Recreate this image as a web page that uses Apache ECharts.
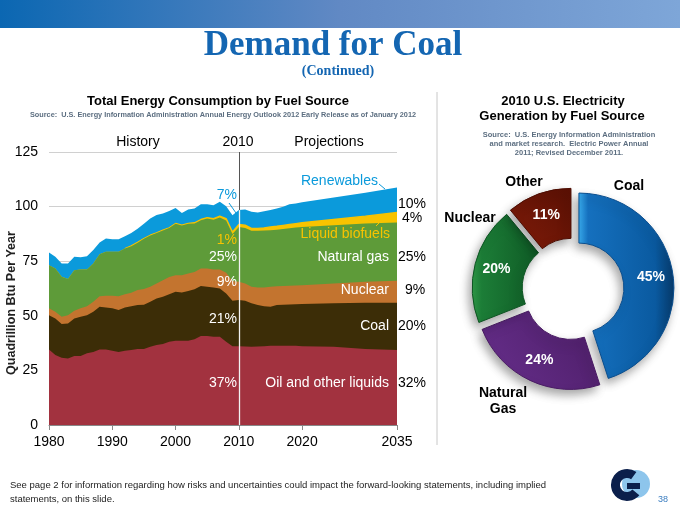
<!DOCTYPE html>
<html><head><meta charset="utf-8">
<script src="https://cdn.jsdelivr.net/npm/echarts@6/dist/echarts.min.js"></script>
<style>html,body{margin:0;padding:0;background:#fff}#c{width:680px;height:506px}</style>
</head><body><div id="c"></div>
<script>
// ---- Data: Total energy consumption (quadrillion Btu), layer values per year ----
const years = [1980,1981,1982,1983,1984,1985,1986,1987,1988,1989,
  1990,1991,1992,1993,1994,1995,1996,1997,1998,1999,
  2000,2001,2002,2003,2004,2005,2006,2007,2008,2009,
  2010,2011,2012,2013,2014,2015,2016,2017,2018,2019,
  2020,2025,2030,2035];
const oil = [34.6,32.0,30.8,30.5,31.6,31.6,32.8,33.4,34.6,34.6,
  34.0,33.4,34.0,34.3,34.8,34.8,35.8,36.6,37.1,38.1,
  38.6,38.6,38.6,39.3,40.7,40.7,40.4,40.4,38.1,36.1,
  36.1,36.0,35.8,35.9,36.1,36.3,36.3,36.3,36.3,36.3,
  36.1,35.8,34.8,34.3];
const coal = [15.7,16.8,15.4,16.0,17.2,18.0,17.5,18.4,19.5,19.2,
  19.4,19.2,19.8,20.1,20.2,20.3,20.6,21.3,21.6,21.8,
  22.4,22.1,22.7,22.8,22.9,22.6,22.6,22.1,22.1,20.8,
  21.1,20.9,19.9,19.0,18.3,17.8,18.6,18.8,18.9,19.0,
  19.3,19.9,21.2,21.7];
const nuclear = [3.1,3.0,3.4,3.8,3.5,3.8,4.1,4.6,4.9,5.4,
  5.8,6.4,6.1,6.1,6.8,7.2,6.9,6.9,7.6,7.9,
  7.6,7.9,8.1,8.0,8.1,8.4,8.2,8.7,9.5,9.0,
  8.4,7.9,7.6,8.1,8.6,9.2,8.6,8.6,8.6,8.6,
  8.6,9.1,9.6,10.0];
const naturalGas = [19.8,19.9,18.3,16.6,18.6,17.8,16.8,17.6,19.2,20.1,
  20.1,20.3,20.9,21.4,21.7,23.0,23.5,23.1,22.8,22.4,
  23.6,22.8,22.7,22.2,22.1,22.9,22.8,23.8,23.9,21.6,
  25.1,25.4,25.6,25.9,26.0,25.9,25.9,26.1,26.3,26.5,
  26.7,26.7,26.7,26.7];
const liquidBiofuels = [0,0,0,0,0,0,0,0,0,0,
  0,0,0,0.1,0.1,0.1,0.1,0.1,0.1,0.1,
  0.1,0.1,0.2,0.3,0.3,0.4,0.5,0.6,0.9,0.9,
  1.1,1.3,1.1,1.1,1.3,1.5,1.6,1.6,1.7,1.8,
  1.9,2.6,3.3,4.6];
const renewables = [5.8,5.3,6.1,7.1,6.1,5.6,6.1,6.1,5.4,6.1,
  5.8,5.8,5.6,5.9,6.3,6.8,7.6,8.1,7.6,7.7,
  7.1,5.6,6.4,6.5,7.0,6.1,6.1,6.6,5.7,7.6,
  6.6,7.2,7.6,7.3,7.6,7.7,8.1,8.5,9.3,9.2,
  9.4,10.1,10.7,11.4];
const xTickYears = [1980,1990,2000,2010,2020,2035];
const dividerYear = 2010;
const share2010 = ['37%','21%','9%','25%','1%','7%'];
const share2035 = ['32%','20%','9%','25%','4%','10%'];

// ---- Data: 2010 U.S. electricity generation by fuel source (%) ----
const pieNames = ['Coal','Natural Gas','Nuclear','Other'];
const pieValues = [45,24,20,11];

const FONT = 'Liberation Sans, Arial, sans-serif';
const layers = [
  {name:'Oil and other liquids', values: oil, color:'#A2323F'},
  {name:'Coal', values: coal, color:'#3C2D07'},
  {name:'Nuclear', values: nuclear, color:'#C3742F'},
  {name:'Natural gas', values: naturalGas, color:'#5E9B39'},
  {name:'Liquid biofuels', values: liquidBiofuels, color:'#F8C300'},
  {name:'Renewables', values: renewables, color:'#0B9ADB'}
];
let run = years.map(() => 0);
const tops = layers.map(d => { run = run.map((s, i) => +(s + d.values[i]).toFixed(2)); return run; });
const idx2010 = years.indexOf(dividerYear);
const total2010 = tops[tops.length - 1][idx2010];

const series = layers.map((d, k) => ({
  type:'line', name:d.name, data: years.map((y, i) => [y, tops[k][i]]),
  showSymbol:false, symbol:'none', silent:true, animation:false,
  lineStyle:{width:0}, areaStyle:{color:d.color, opacity:1, origin:'start'}, z: 10 - k
}));
// thin visible edge of the liquid-biofuels band where it exists
series.push({
  type:'line', name:'biofuels edge', silent:true, animation:false, showSymbol:false, symbol:'none', z:6,
  data: years.map((y, i) => liquidBiofuels[i] > 0 || (i + 1 < years.length && liquidBiofuels[i + 1] > 0) ? [y, tops[4][i]] : [y, null]),
  lineStyle:{width:1.3, color:'#F8C300'}
});
// divider line: gray above the areas, white through the areas
series[5].markLine = {silent:true, symbol:'none', z:1, animation:false, label:{show:false},
  lineStyle:{color:'#555', width:1, type:'solid'}, data:[{xAxis: dividerYear}]};
series[0].markLine = {silent:true, symbol:'none', z:30, animation:false, label:{show:false},
  lineStyle:{color:'#f2f2f2', width:1.3, type:'solid'},
  data:[[{coord:[dividerYear, 0]}, {coord:[dividerYear, total2010]}]]};

const pieStyles = [
  {color:{type:'linear',x:0,y:0,x2:1,y2:0,colorStops:[{offset:0,color:'#3AAEF0'},{offset:0.1,color:'#1570BE'},{offset:0.8,color:'#0A5AA0'},{offset:1,color:'#063A6C'}]}, borderColor:'#0A4E8E'},
  {color:{type:'linear',x:0,y:1,x2:1,y2:0,colorStops:[{offset:0,color:'#9A62CC'},{offset:0.12,color:'#642D88'},{offset:1,color:'#4C1D66'}]}, borderColor:'#4A1C64'},
  {color:{type:'linear',x:0,y:0,x2:1,y2:0,colorStops:[{offset:0,color:'#2F9A48'},{offset:0.15,color:'#1C7D37'},{offset:1,color:'#0F5A25'}]}, borderColor:'#0E5523'},
  {color:{type:'linear',x:0,y:1,x2:1,y2:0,colorStops:[{offset:0,color:'#E0501E'},{offset:0.15,color:'#7A1A08'},{offset:1,color:'#5A1004'}]}, borderColor:'#4E0E03'}
];
const pieData = pieNames.map((n, i) => {
  const st = Object.assign({borderWidth:1, shadowBlur:10, shadowColor:'rgba(0,0,0,0.35)', shadowOffsetX:-3, shadowOffsetY:5}, pieStyles[i]);
  return {name:n, value:pieValues[i], selected:true, itemStyle:st, select:{itemStyle:st}};
});
series.push({
  type:'pie', center:[573,289], radius:[45,95], startAngle:90, clockwise:true,
  selectedMode:'multiple', selectedOffset:6, silent:true, animation:false,
  data:pieData, labelLine:{show:false},
  label:{show:true, position:'inside', formatter: p => p.value + '%', color:'#fff', fontWeight:'bold', fontSize:14, fontFamily:FONT},
  emphasis:{disabled:true}
});

function txt(x, y, text, o) {
  o = o || {};
  const align = o.align || 'center';
  return {type:'text', x:x, y:y, silent:true, z:50,
    rotation:o.rotation || 0,
    style:{text:text, fill:o.color || '#000', font:(o.weight || 'normal') + ' ' + (o.size || 14) + 'px ' + (o.family || FONT),
      align:align, textAlign:align, verticalAlign:'middle', textVerticalAlign:'middle'}};
}
const graphics = [
  {type:'rect', shape:{x:0,y:0,width:680,height:28}, silent:true, z:1,
    style:{fill:{type:'linear',x:0,y:0,x2:1,y2:0,colorStops:[{offset:0,color:'#0B67B2'},{offset:0.5,color:'#6189C4'},{offset:1,color:'#7EA6D8'}]}}},
  txt(333, 46, 'Demand for Coal', {color:'#1466B2', weight:'bold', size:35, family:'Liberation Serif, Times New Roman, serif'}),
  txt(338, 71, '(Continued)', {color:'#1466B2', weight:'bold', size:14, family:'Liberation Serif, Times New Roman, serif'}),
  txt(218, 101, 'Total Energy Consumption by Fuel Source', {weight:'bold', size:13}),
  txt(223, 114.5, 'Source:  U.S. Energy Information Administration Annual Energy Outlook 2012 Early Release as of January 2012', {weight:'bold', size:7.3, color:'#5C6E80'}),
  txt(563, 101, '2010 U.S. Electricity', {weight:'bold', size:13}),
  txt(562, 116, 'Generation by Fuel Source', {weight:'bold', size:13}),
  txt(569, 135, 'Source:  U.S. Energy Information Administration', {weight:'bold', size:7.5, color:'#5C6E80'}),
  txt(569, 144, 'and market research.  Electric Power Annual', {weight:'bold', size:7.5, color:'#5C6E80'}),
  txt(569, 153, '2011; Revised December 2011.', {weight:'bold', size:7.5, color:'#5C6E80'}),
  {type:'line', shape:{x1:437,y1:92,x2:437,y2:445}, silent:true, style:{stroke:'#c8c8c8', lineWidth:1}},
  txt(12, 303, 'Quadrillion Btu Per Year', {weight:'bold', size:12.5, color:'#222', rotation:Math.PI/2}),
  txt(138, 142, 'History'), txt(238, 142, '2010'), txt(329, 142, 'Projections'),
  txt(378, 181, 'Renewables', {align:'right', color:'#0B9ADB'}),
  txt(390, 234, 'Liquid biofuels', {align:'right', color:'#F8C300'}),
  txt(389, 257, 'Natural gas', {align:'right', color:'#fff'}),
  txt(389, 290, 'Nuclear', {align:'right', color:'#fff'}),
  txt(389, 326, 'Coal', {align:'right', color:'#fff'}),
  txt(389, 383, 'Oil and other liquids', {align:'right', color:'#fff'}),
  {type:'line', shape:{x1:379,y1:184,x2:385,y2:189}, silent:true, z:50, style:{stroke:'#0B9ADB', lineWidth:1}},
  {type:'line', shape:{x1:376,y1:226,x2:383,y2:219}, silent:true, z:50, style:{stroke:'#F8C300', lineWidth:1}},
  {type:'line', shape:{x1:229,y1:203,x2:236,y2:213}, silent:true, z:50, style:{stroke:'#0B9ADB', lineWidth:1}},
  txt(237, 195, share2010[5], {align:'right', color:'#0B9ADB'}),
  txt(237, 240, share2010[4], {align:'right', color:'#F8C300'}),
  txt(237, 257, share2010[3], {align:'right', color:'#fff'}),
  txt(237, 282, share2010[2], {align:'right', color:'#fff'}),
  txt(237, 319, share2010[1], {align:'right', color:'#fff'}),
  txt(237, 383, share2010[0], {align:'right', color:'#fff'}),
  txt(398, 204, share2035[5], {align:'left'}),
  txt(402, 218, share2035[4], {align:'left'}),
  txt(398, 257, share2035[3], {align:'left'}),
  txt(405, 290, share2035[2], {align:'left'}),
  txt(398, 326, share2035[1], {align:'left'}),
  txt(398, 383, share2035[0], {align:'left'}),
  txt(629, 186, 'Coal', {weight:'bold', size:14}),
  txt(524, 182, 'Other', {weight:'bold', size:14}),
  txt(470, 218, 'Nuclear', {weight:'bold', size:14}),
  txt(503, 393, 'Natural', {weight:'bold', size:14}),
  txt(503, 409, 'Gas', {weight:'bold', size:14}),
  txt(10, 485, 'See page 2 for information regarding how risks and uncertainties could impact the forward-looking statements, including implied', {align:'left', size:9.5, color:'#222'}),
  txt(10, 499, 'statements, on this slide.', {align:'left', size:9.5, color:'#222'}),
  {type:'circle', shape:{cx:636,cy:484,r:14}, silent:true, style:{fill:'#8DC5EC'}},
  {type:'sector', shape:{cx:627,cy:485,r:16,r0:7,startAngle:-0.3*Math.PI,endAngle:0.22*Math.PI,clockwise:false}, silent:true, style:{fill:'#0B1F4B'}},
  {type:'rect', shape:{x:627,y:483,width:13,height:6}, silent:true, style:{fill:'#0B1F4B'}},
  txt(663, 500, '38', {size:9, color:'#3A7DC0'})
];

const chart = echarts.init(document.getElementById('c'), null, {renderer:'canvas'});
chart.setOption({
  animation:false,
  backgroundColor:'#fff',
  grid:{left:49, right:283, top:152, bottom:81, containLabel:false},
  xAxis:{type:'value', min:1980, max:2035,
    axisLine:{show:true, lineStyle:{color:'#888', width:1}},
    axisTick:{show:true, customValues:xTickYears, length:5, lineStyle:{color:'#888'}},
    axisLabel:{customValues:xTickYears, formatter: v => String(v), color:'#000', fontSize:14, fontFamily:FONT, margin:10},
    splitLine:{show:false}},
  yAxis:{type:'value', min:0, max:125, interval:25,
    axisLine:{show:false}, axisTick:{show:false},
    axisLabel:{color:'#000', fontSize:14, fontFamily:FONT, margin:11},
    splitLine:{show:true, lineStyle:{color:'#d0d0d0', width:1}}},
  series: series,
  graphic: graphics
});
</script></body></html>
